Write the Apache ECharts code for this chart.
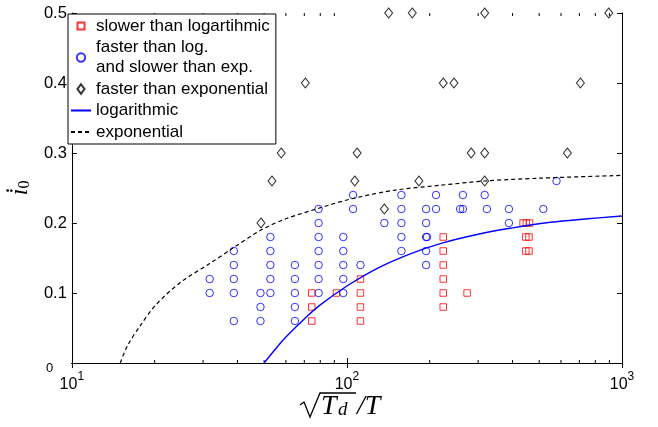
<!DOCTYPE html>
<html><head><meta charset="utf-8">
<script src="https://cdn.jsdelivr.net/npm/echarts@6/dist/echarts.min.js"></script>
<style>html,body{margin:0;padding:0;background:#fff}#c{width:658px;height:427px}</style>
</head><body><div id="c"></div>
<script>
// ---- data ----
const slowerThanLog = [
  [74.5,0.10],[74.5,0.08],[74.5,0.06],
  [91.6,0.10],
  [112,0.12],[112,0.10],[112,0.08],[112,0.06],
  [224,0.18],[224,0.16],[224,0.14],[224,0.12],[224,0.10],[224,0.08],
  [273.5,0.10],
  [437,0.20],[449,0.20],[461,0.20],
  [447,0.18],[459,0.18],
  [447,0.16],[459,0.16]
];
const fasterLogSlowerExp = [
  [31.7,0.12],[31.7,0.10],
  [38.8,0.16],[38.8,0.14],[38.8,0.12],[38.8,0.10],[38.8,0.06],
  [48.5,0.10],[48.5,0.08],[48.5,0.06],
  [52.7,0.18],[52.7,0.16],[52.7,0.14],[52.7,0.12],[52.7,0.10],
  [64.7,0.14],[64.7,0.12],[64.7,0.10],[64.7,0.08],[64.7,0.06],
  [78.9,0.22],[78.9,0.20],[78.9,0.18],[78.9,0.16],[78.9,0.14],[78.9,0.12],[78.9,0.10],
  [97,0.18],[97,0.16],[97,0.14],[97,0.12],[97,0.10],
  [105.3,0.24],[105.3,0.22],
  [112,0.14],
  [136.8,0.20],
  [157.8,0.24],[157.8,0.22],[157.8,0.20],[157.8,0.18],[157.8,0.16],
  [194,0.22],[194,0.20],[194,0.18],[195.5,0.18],[194,0.16],[194,0.14],
  [210.8,0.24],[210.8,0.22],
  [258,0.22],[264,0.22],[264,0.24],
  [316.8,0.24],[322.8,0.22],
  [388,0.22],[388,0.20],
  [517.6,0.22],
  [578,0.26]
];
const fasterThanExp = [
  [48.7,0.20],[53.4,0.26],[57.7,0.30],[70.6,0.40],
  [106.8,0.26],[108.9,0.30],[136.8,0.22],[141.8,0.50],[172.8,0.50],[182.7,0.26],
  [224,0.40],[245,0.40],[282.9,0.30],[316.8,0.50],[316.8,0.30],[316.8,0.26],
  [633,0.30],[706,0.40],[895,0.50]
];
const logarithmicCurve = [
  [50,0],[55,0.020],[60,0.037],[70,0.063],[80,0.083],[100,0.110],[130,0.136],
  [170,0.156],[220,0.171],[300,0.184],[400,0.193],[550,0.201],[750,0.206],[1000,0.210]
];
const exponentialCurve = [
  [15,0],[15.9,0.024],[17.7,0.053],[20.3,0.084],[25,0.116],[31.7,0.142],[38.8,0.165],
  [48.7,0.190],[60,0.206],[78.9,0.221],[105,0.235],[150,0.247],[220,0.254],[316.8,0.260],
  [500,0.264],[1000,0.268]
];
const xTickExponents = {10:'1',100:'2',1000:'3'};
const xMinorTicks = [20,30,40,50,60,70,80,90,200,300,400,500,600,700,800,900];
const yTickLabels = ['0.1','0.2','0.3','0.4','0.5'];
const seriesNames = ['slower than logartihmic','faster than log.\nand slower than exp.','faster than exponential','logarithmic','exponential'];

const chart = echarts.init(document.getElementById('c'), null, {renderer:'canvas'});
const SANS = 'Liberation Sans, Arial, sans-serif';
const SERIF = 'Liberation Serif, Times New Roman, serif';
const gridPos = {left:64, right:36, top:13, bottom:64};

const xBase = {
  type:'log', logBase:10, min:10, max:1000,
  axisLine:{show:true, lineStyle:{color:'#000', width:1}},
  axisTick:{show:true, inside:true, length:5, lineStyle:{color:'#000'}},
  splitLine:{show:false}
};
const yBase = {
  type:'value', min:0, max:0.5, interval:0.1,
  axisLine:{show:true, lineStyle:{color:'#000', width:1}},
  axisTick:{show:true, inside:true, length:5, lineStyle:{color:'#000'}},
  splitLine:{show:false}
};

const mathText = (txt, x, y, size) => ({type:'text', x:x, y:y, z:10,
  style:{text:txt, fontSize:size, fontFamily:SERIF, fontStyle:'italic', fill:'#000', textVerticalAlign:'top', verticalAlign:'top'}});
const hiddenSymbol = {color:'rgba(0,0,0,0)', borderColor:'rgba(0,0,0,0)', borderWidth:0};

chart.setOption({
  animation:false,
  backgroundColor:'#fff',
  grid: Object.assign({show:false}, gridPos),
  xAxis:[
    Object.assign({}, xBase, {position:'bottom',
      axisLabel:{margin:8, color:'#000', formatter: v => '{b|10}{s|' + (xTickExponents[Math.round(v)]||'') + '}',
        rich:{b:{fontSize:16, fontFamily:SANS, color:'#000', lineHeight:22, verticalAlign:'bottom'},
              s:{fontSize:12, fontFamily:SANS, color:'#000', lineHeight:22, verticalAlign:'top'}}}}),
    Object.assign({}, xBase, {position:'top', axisLabel:{show:false}})
  ],
  yAxis:[
    Object.assign({}, yBase, {position:'left',
      axisLabel:{margin:5, color:'#000', fontSize:16.5, fontFamily:SANS,
        formatter: v => { const i = Math.round(v*10); return i>0 ? yTickLabels[i-1] : ''; }},
      name:'{i|i\u0307}{s|0}', nameLocation:'middle', nameRotate:90, nameGap:34,
      nameTextStyle:{rich:{i:{fontSize:25, fontFamily:SERIF, fontStyle:'italic', color:'#000', verticalAlign:'bottom', lineHeight:26},
                           s:{fontSize:16, fontFamily:SERIF, color:'#000', verticalAlign:'bottom', lineHeight:20}}}}),
    Object.assign({}, yBase, {position:'right', axisLabel:{show:false}})
  ],
  legend:{
    left:68, top:14, orient:'vertical',
    padding:[2,6,2,2], itemGap:1.5, itemWidth:20, itemHeight:9.5,
    backgroundColor:'#fff', borderColor:'#000', borderWidth:1, borderRadius:0,
    textStyle:{fontSize:17, fontFamily:SANS, color:'#000', lineHeight:20},
    data:[
      {name:seriesNames[0], icon:'path://M-0.18,-0.18M1.18,1.18M0,0H1V1H0Z'},
      {name:seriesNames[1], icon:'path://M-0.07,-0.07M1.07,1.07M0,0.5A0.5,0.5,0,1,1,1,0.5A0.5,0.5,0,1,1,0,0.5Z'},
      {name:seriesNames[2], icon:'path://M0.5,0L0.93,0.58L0.5,1.16L0.07,0.58Z'},
      {name:seriesNames[3], itemStyle:hiddenSymbol},
      {name:seriesNames[4], itemStyle:hiddenSymbol}
    ]
  },
  series:[
    {type:'custom', name:'minor', silent:true, clip:false, xAxisIndex:0, yAxisIndex:0,
     data: xMinorTicks.map(v => [v, 0]), encode:{x:0, y:1},
     renderItem:(params, api) => {
       const b = api.coord([api.value(0), 0]);
       const t = api.coord([api.value(0), 0.5]);
       return {type:'group', children:[
         {type:'line', shape:{x1:b[0], y1:b[1], x2:b[0], y2:b[1]-3}, style:{stroke:'#000', lineWidth:1}},
         {type:'line', shape:{x1:t[0], y1:t[1], x2:t[0], y2:t[1]+3}, style:{stroke:'#000', lineWidth:1}}
       ]};
     }},
    {type:'line', name:seriesNames[4], data:exponentialCurve, smooth:0.3, symbol:'none', clip:true,
     lineStyle:{color:'#000', width:1.2, type:[4,3]}, itemStyle:{color:'#000'}},
    {type:'line', name:seriesNames[3], data:logarithmicCurve, smooth:0.4, symbol:'none', clip:true,
     lineStyle:{color:'#0000ff', width:1.4}, itemStyle:{color:'#0000ff'}},
    {type:'scatter', name:seriesNames[0], data:slowerThanLog, symbol:'rect', symbolSize:6.5, clip:false,
     itemStyle:{color:'rgba(0,0,0,0)', borderColor:'#ff0000', borderWidth:1}},
    {type:'scatter', name:seriesNames[1], data:fasterLogSlowerExp, symbol:'circle', symbolSize:7.5, clip:false,
     itemStyle:{color:'rgba(0,0,0,0)', borderColor:'#0000ff', borderWidth:1}},
    {type:'scatter', name:seriesNames[2], data:fasterThanExp, symbol:'diamond', symbolSize:[8,10], clip:false,
     itemStyle:{color:'rgba(0,0,0,0)', borderColor:'#000', borderWidth:1}}
  ],
  graphic:[
    {type:'text', left:46, top:362, style:{text:'0', fontSize:13, fontFamily:SANS, fill:'#000'}},
    {type:'polyline', shape:{points:[[300,405],[304,402],[310,417],[320,393],[356,393]]},
     style:{stroke:'#000', lineWidth:1.3, fill:null}},
    mathText('T', 321, 393, 28),
    mathText('d', 338, 400, 19),
    mathText('/T', 357, 393, 28)
  ]
});
</script>
</body></html>
